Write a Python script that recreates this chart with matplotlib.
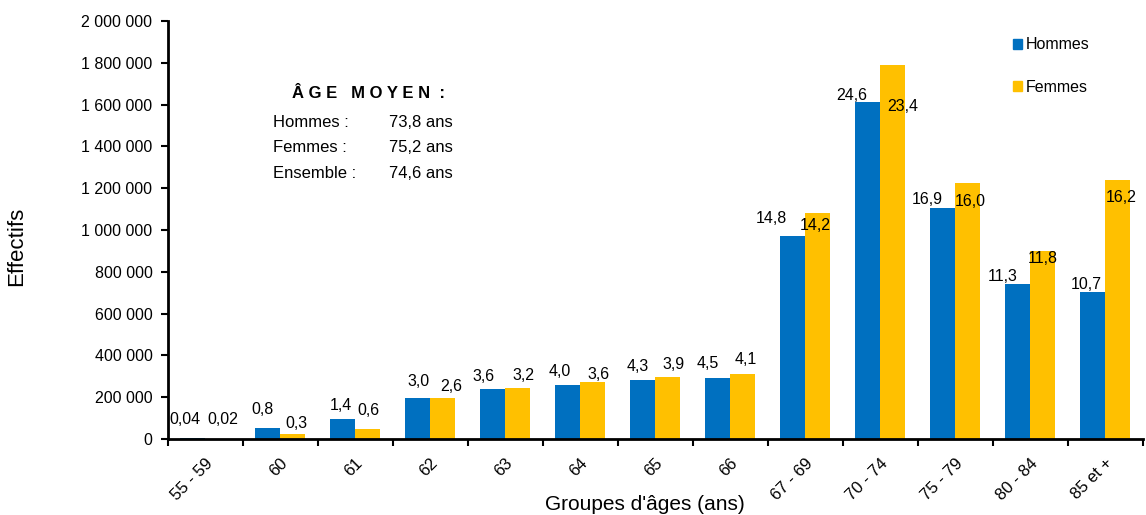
"""Répartition par groupes d'âges (Hommes / Femmes) - barres groupées."""
import matplotlib
matplotlib.use("Agg")
import matplotlib.pyplot as plt
import numpy as np
from matplotlib.patches import Rectangle
from matplotlib.ticker import FuncFormatter

plt.rcParams["font.family"] = ["Liberation Sans", "DejaVu Sans"]

AGES = ["55 - 59", "60", "61", "62", "63", "64", "65", "66",
        "67 - 69", "70 - 74", "75 - 79", "80 - 84", "85 et +"]
HOMMES = [2600, 53000, 94000, 197000, 237000, 260000, 280000, 293000,
          971000, 1612000, 1106000, 741000, 702000]
FEMMES = [1500, 24000, 47000, 198000, 246000, 272000, 295000, 312000,
          1083000, 1789000, 1224000, 900000, 1239000]
PCT_H = ["0,04", "0,8", "1,4", "3,0", "3,6", "4,0", "4,3", "4,5",
         "14,8", "24,6", "16,9", "11,3", "10,7"]
PCT_F = ["0,02", "0,3", "0,6", "2,6", "3,2", "3,6", "3,9", "4,1",
         "14,2", "23,4", "16,0", "11,8", "16,2"]
AGE_MOYEN = [("Hommes :", "73,8 ans"), ("Femmes :", "75,2 ans"), ("Ensemble :", "74,6 ans")]

BLUE = "#0070C0"
YELLOW = "#FFC000"

# label nudges (pixels, relative to bar centre / bar top) - mimics the hand-placed labels
NUDGE_H = [(-8, 19), (-5, 18), (-2, 14), (1, 16), (-9, 13), (-8, 13), (-5, 14), (-10, 14),
           (-21, 18), (-16, 7), (-15, 8), (-15, 8), (-6, 8)]
NUDGE_F = [(5, 19), (4, 10), (1, 19), (9, 11), (6, 12), (6, 8), (6, 13), (3, 14),
           (-2, -13), (10, -41), (3, -18), (0, -8), (4, -17)]


def main():
    fig = plt.figure(figsize=(11.46, 5.15), dpi=100)
    ax = fig.add_axes([0.1463, 0.1476, 0.8508, 0.8116])

    x = np.arange(len(AGES))
    w = 1 / 3
    bh = ax.bar(x - w / 2, HOMMES, w, color=BLUE, linewidth=0)
    bf = ax.bar(x + w / 2, FEMMES, w, color=YELLOW, linewidth=0)

    for bars, labels, nudges in ((bh, PCT_H, NUDGE_H), (bf, PCT_F, NUDGE_F)):
        for b, lab, (dx, dy) in zip(bars, labels, nudges):
            ax.annotate(lab, (b.get_x() + b.get_width() / 2, b.get_height()),
                        xytext=(dx, dy), textcoords="offset pixels",
                        ha="center", va="center", fontsize=11.5, color="black")

    ax.set_xlim(-0.5, len(AGES) - 0.5)
    ax.set_ylim(0, 2_000_000)
    ax.set_yticks(np.arange(0, 2_000_001, 200_000))
    ax.yaxis.set_major_formatter(FuncFormatter(lambda v, _: f"{int(v):,}".replace(",", " ")))
    ax.set_xticks(x)
    ax.set_xticklabels(AGES, rotation=45, ha="right", va="top", rotation_mode="anchor")
    ax.set_xticks(np.arange(-0.5, len(AGES), 1), minor=True)
    ax.tick_params(axis="x", which="major", length=0, pad=12, labelsize=12)
    ax.tick_params(axis="x", which="minor", length=5, width=1.5, direction="out")
    ax.tick_params(axis="y", length=5, width=1.5, pad=6, labelsize=11.5)

    for s in ("top", "right"):
        ax.spines[s].set_visible(False)
    for s in ("left", "bottom"):
        ax.spines[s].set_linewidth(2)
        ax.spines[s].set_color("black")

    ax.set_ylabel("Effectifs", fontsize=16)
    ax.yaxis.set_label_coords(-0.144, 0.46)
    fig.text(645 / 1146, 1 - 505 / 515, "Groupes d'âges (ans)", ha="center", va="center", fontsize=15)

    # encadré âge moyen
    fig.text(368 / 1146, 1 - 93 / 515, "Â G E   M O Y E N  :", ha="center", va="center",
             fontsize=12, fontweight="bold")
    for k, (nom, val) in enumerate(AGE_MOYEN):
        yy = 1 - (123 + 25 * k) / 515
        fig.text(273 / 1146, yy, nom, ha="left", va="center", fontsize=12)
        fig.text(389 / 1146, yy, val, ha="left", va="center", fontsize=12)

    handles = [Rectangle((0, 0), 1, 1, color=BLUE), Rectangle((0, 0), 1, 1, color=YELLOW)]
    fig.legend(handles, ["Hommes", "Femmes"], loc="upper left",
               bbox_to_anchor=(999 / 1146, 1 - 23 / 515), frameon=False, fontsize=11.5,
               handlelength=0.55, handleheight=0.55, handletextpad=0.2, labelspacing=1.7)

    fig.savefig("out.png", dpi=100)


if __name__ == "__main__":
    main()
